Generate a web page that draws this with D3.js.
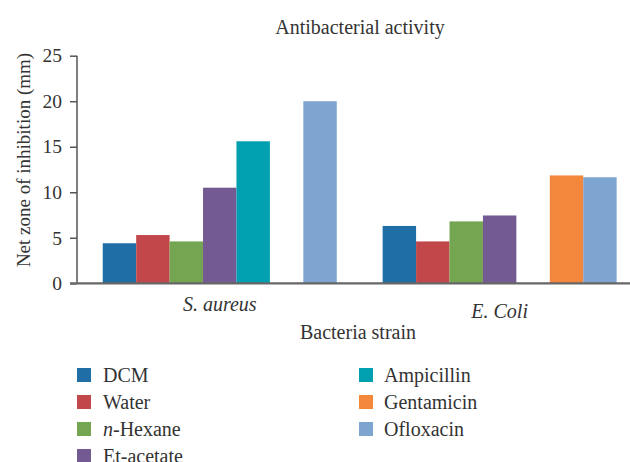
<!DOCTYPE html>
<html>
<head>
<meta charset="utf-8">
<script src="https://cdn.jsdelivr.net/npm/d3@7"></script>
<style>
body { margin: 0; background: #fff; }
text { font-family: "Liberation Serif", "DejaVu Serif", serif; fill: #333; }
.axis path, .axis line { stroke: #555; }
</style>
</head>
<body>
<svg width="630" height="462"></svg>
<script>
const svg = d3.select("svg")

// data
const strains = ["S. aureus", "E. Coli"]
const series = ["DCM", "Water", "n-Hexane", "Et-acetate", "Ampicillin", "Gentamicin", "Ofloxacin"]
const sAureus = [4.4, 5.3, 4.6, 10.5, 15.6, null, 20.0]
const eColi = [6.3, 4.6, 6.8, 7.45, null, 11.85, 11.65]
const colors = ["#1f6fa6", "#c2474a", "#74a550", "#735a93", "#00a0b1", "#f3883d", "#7ea5cf"]
const yTicks = [0, 5, 10, 15, 20, 25]

const values = [sAureus, eColi]

//scales
const x0 = d3.scaleBand()
	.domain(strains)
	.range([77, 642.4])
	.paddingInner(0.164)
	.paddingOuter(0.092)

const x1 = d3.scaleBand()
	.domain(series)
	.range([0, x0.bandwidth()])

const y = d3.scaleLinear()
	.domain([0, 25])
	.range([283.3, 55.7])

const color = d3.scaleOrdinal()
	.domain(series)
	.range(colors)

//bars
const groups = svg.selectAll("g.strain")
	.data(strains)
	.enter()
	.append("g")
	.attr("class", "strain")
	.attr("transform", d => `translate(${x0(d)},0)`)

groups.selectAll("rect")
	.data((d, i) => series.map((s, j) => ({ s: s, v: values[i][j] })).filter(e => e.v != null))
	.enter()
	.append("rect")
	.attr("x", d => x1(d.s))
	.attr("width", x1.bandwidth())
	.attr("y", d => y(d.v))
	.attr("height", d => y(0) - y(d.v))
	.attr("fill", d => color(d.s))

//y axis
const yAxis = svg.append("g")
	.attr("class", "axis")
	.attr("transform", "translate(77,0)")
	.call(d3.axisLeft(y).tickValues(yTicks).tickSize(7).tickPadding(8))
yAxis.select(".domain").attr("stroke-width", 1.5).attr("d", `M0,${y(25)}V${y(0)}`)
yAxis.selectAll("line").attr("stroke-width", 1.5)
yAxis.selectAll("text").style("font-size", "19.5px").attr("fill", "#333")

//x axis line
svg.append("line")
	.attr("x1", 70)
	.attr("x2", 630)
	.attr("y1", y(0))
	.attr("y2", y(0))
	.attr("stroke", "#666")
	.attr("stroke-width", 2.2)

//strain labels
svg.selectAll("text.strain")
	.data(strains)
	.enter()
	.append("text")
	.attr("class", "strain")
	.attr("x", d => x0(d) + x0.bandwidth() / 2)
	.attr("y", (d, i) => i == 0 ? 311 : 318)
	.attr("text-anchor", "middle")
	.style("font-size", "20px")
	.style("font-style", "italic")
	.text(d => d)

//titles
svg.append("text")
	.attr("x", 360)
	.attr("y", 34)
	.attr("text-anchor", "middle")
	.style("font-size", "20px")
	.text("Antibacterial activity")

svg.append("text")
	.attr("x", 358)
	.attr("y", 339)
	.attr("text-anchor", "middle")
	.style("font-size", "20px")
	.text("Bacteria strain")

svg.append("text")
	.attr("transform", "translate(30,160) rotate(-90)")
	.attr("text-anchor", "middle")
	.style("font-size", "19px")
	.text("Net zone of inhibition (mm)")

//legend
const legend = svg.selectAll("g.legend")
	.data(series)
	.enter()
	.append("g")
	.attr("class", "legend")
	.attr("transform", (d, i) => `translate(${i < 4 ? 77 : 359},${375 + (i % 4) * 27})`)

legend.append("rect")
	.attr("x", 0)
	.attr("y", -7)
	.attr("width", 14)
	.attr("height", 14)
	.attr("fill", d => color(d))

legend.append("text")
	.attr("x", d => series.indexOf(d) < 4 ? 26 : 25)
	.attr("y", 6.5)
	.style("font-size", "20px")
	.each(function (d) {
		const t = d3.select(this)
		if (d.startsWith("n-")) {
			t.append("tspan").style("font-style", "italic").text("n")
			t.append("tspan").text(d.slice(1))
		} else {
			t.text(d)
		}
	})
</script>
</body>
</html>
